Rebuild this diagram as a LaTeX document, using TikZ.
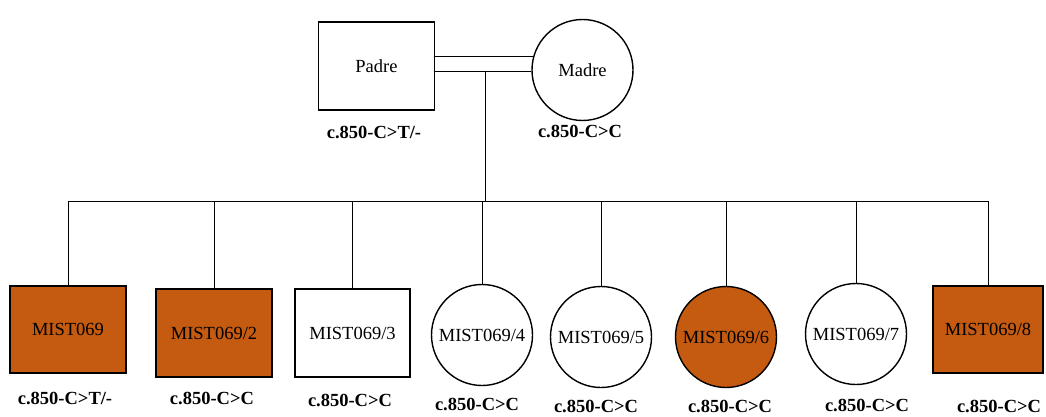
\documentclass[tikz,border=0pt]{standalone}
\usepackage{fontspec}
\setmainfont{Liberation Serif}
\definecolor{affc}{RGB}{197,90,17}
\begin{document}
\begin{tikzpicture}[x=1pt,y=-1pt,
  shp/.style={draw=black,line width=1.4pt,inner sep=0pt,font=\fontsize{18.5}{21}\selectfont},
  male/.style={shp,rectangle,minimum width=116pt,minimum height=88pt},
  female/.style={shp,circle,minimum size=101pt},
  affected/.style={fill=affc},
  geno/.style={font=\bfseries\fontsize{18.5}{21}\selectfont,inner sep=0pt},
  link/.style={line width=1pt}]
\useasboundingbox (0,0) rectangle (1046,417);
% parents
\node[male] (padre) at (376.5,66) {Padre};
\node[female] (madre) at (582.5,70) {Madre};
\node[geno] (gp) at (374,132) {c.850-C>T/-};
\node[geno] (gm) at (580,131) {c.850-C>C};
% children
\node[male,affected,minimum height=87pt] (c1) at (68,329.5) {MIST069};
\node[male,affected] (c2) at (214,333) {MIST069/2};
\node[male,minimum width=115pt] (c3) at (352.5,333) {MIST069/3};
\node[female] (c4) at (482,335) {MIST069/4};
\node[female] (c5) at (601,337) {MIST069/5};
\node[female,affected] (c6) at (726,337) {MIST069/6};
\node[female] (c7) at (856,334) {MIST069/7};
\node[male,affected,minimum width=110pt,minimum height=87pt] (c8) at (988,329.5) {MIST069/8};
% genotypes
\node[geno] (g1) at (65,398) {c.850-C>T/-};
\node[geno] (g2) at (212,398) {c.850-C>C};
\node[geno] (g3) at (350,400) {c.850-C>C};
\node[geno] (g4) at (477,404) {c.850-C>C};
\node[geno] (g5) at (596,406) {c.850-C>C};
\node[geno] (g6) at (730,406) {c.850-C>C};
\node[geno] (g7) at (867,405) {c.850-C>C};
\node[geno] (g8) at (999,406) {c.850-C>C};
% marriage (double) line
\draw[link] (padre.east |- madre.165) -- (madre.165);
\draw[link] (padre.east |- madre.182) coordinate (low) -- (madre.182);
% descent
\coordinate (bar) at (0,201);
\coordinate (mid) at (485,0);
\draw[link] (mid |- low) -- (mid |- bar);
\draw[link] (c1.north |- bar) -- (c8.north |- bar);
\foreach \c in {c1,c2,c3,c4,c5,c6,c7,c8}
  \draw[link] (\c.north) -- (\c.north |- bar);
\end{tikzpicture}
\end{document}
